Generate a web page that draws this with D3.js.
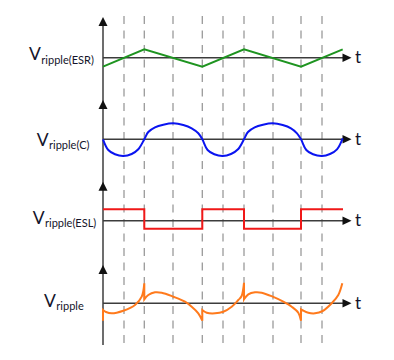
<!DOCTYPE html>
<html><head><meta charset="utf-8">
<script src="https://cdn.jsdelivr.net/npm/d3@7"></script>
<style>html,body{margin:0;padding:0;background:#fff;}svg{display:block;}</style>
</head><body>
<svg id="chart" width="394" height="360"></svg>
<script>
// ---- data (time in switching-period units, values in arbitrary ripple units) ----
const panelNames = ["ripple(ESR)", "ripple(C)", "ripple(ESL)", "ripple"];
const gridT = [0.21, 0.413, 0.70, 0.993, 1.20, 1.41, 1.70, 1.98, 2.19];

const esrT = [0, 0.413, 0.993, 1.41, 1.98, 2.397];
const esrV = [-0.9, 0.84, -0.9, 0.84, -0.9, 0.84];

const capT = [0, 0.053, 0.12, 0.203, 0.287, 0.353, 0.413,
              0.453, 0.52, 0.603, 0.703, 0.803, 0.887, 0.953, 0.993,
              1.046, 1.113, 1.197, 1.28, 1.35, 1.41,
              1.45, 1.517, 1.60, 1.697, 1.797, 1.88, 1.94, 1.98,
              2.033, 2.10, 2.19, 2.27, 2.34, 2.397];
const capV = [0, -1.07, -1.5, -1.67, -1.47, -1.0, 0,
              0.73, 1.2, 1.46, 1.6, 1.43, 1.1, 0.6, 0,
              -1.07, -1.5, -1.67, -1.47, -1.0, 0,
              0.73, 1.2, 1.46, 1.6, 1.43, 1.1, 0.6, 0,
              -1.07, -1.5, -1.67, -1.47, -1.0, 0.1];

const eslT = [0, 0.413, 0.993, 1.41, 1.98, 2.40];
const eslV = [1.14, -0.8, 1.14, -0.8, 1.14, 1.14];

// total ripple: smooth pieces separated by the ESL steps
const ripT = [
  [0, 0.03, 0.087, 0.203, 0.32, 0.387, 0.413],
  [0.413, 0.453, 0.52, 0.587, 0.703, 0.82, 0.887, 0.953, 0.993],
  [0.993, 1.037, 1.12, 1.203, 1.287, 1.353, 1.385, 1.41],
  [1.41, 1.453, 1.52, 1.587, 1.697, 1.803, 1.887, 1.953, 1.98],
  [1.98, 2.053, 2.12, 2.197, 2.287, 2.353, 2.393]
];
const ripV = [
  [-0.67, -0.87, -1.0, -0.74, -0.17, 0.66, 2.0],
  [0.4, 0.83, 1.1, 1.06, 0.66, 0.16, -0.34, -1.0, -1.74],
  [-0.67, -0.94, -1.0, -0.84, -0.34, 0.33, 0.7, 2.05],
  [0.4, 0.9, 1.1, 1.06, 0.66, 0.16, -0.34, -0.94, -1.74],
  [-0.6, -0.94, -1.0, -0.77, 0.0, 0.83, 2.0]
];
const ripStart = -1.74;

// ---- layout ----
const svg = d3.select("#chart");
const x = d3.scaleLinear().domain([0, 2.4]).range([103, 343]);
const baselines = [57.7, 139.3, 220.7, 303.3];
const arrowTops = [17, 100, 181.7, 265];
const yS = baselines.map(b => d3.scaleLinear().domain([-2, 2]).range([b + 20, b - 20]));
const axisColor = "#3c3c3c";
const textColor = "#14142a";

// dashed grid
svg.append("g").selectAll("line").data(gridT).join("line")
  .attr("x1", d => x(d)).attr("x2", d => x(d))
  .attr("y1", 16).attr("y2", 345)
  .attr("stroke", "#9a9a9a").attr("stroke-width", 1.3)
  .attr("stroke-dasharray", "8,6.5");

// vertical axis
const axX = x(0);
svg.append("line").attr("x1", axX).attr("x2", axX).attr("y1", arrowTops[0] + 4).attr("y2", 345)
  .attr("stroke", axisColor).attr("stroke-width", 1.5);
arrowTops.forEach(t => {
  svg.append("path").attr("d", `M${axX},${t} L${axX - 4.5},${t + 9} L${axX + 4.5},${t + 9} Z`)
    .attr("fill", "#111");
});
// horizontal axes
const tipX = 351.5;
baselines.forEach(b => {
  svg.append("line").attr("x1", axX).attr("x2", tipX - 4).attr("y1", b).attr("y2", b)
    .attr("stroke", axisColor).attr("stroke-width", 1.4);
  svg.append("path").attr("d", `M${tipX},${b} L${tipX - 9},${b - 4.3} L${tipX - 9},${b + 4.3} Z`)
    .attr("fill", "#111");
  svg.append("text").attr("x", 355).attr("y", b + 5.6).text("t")
    .attr("font-family", "Lato, 'Open Sans', sans-serif").attr("font-size", 17).attr("fill", textColor);
});

// labels
const labelPos = [[29, 60, 3.5], [36.7, 146, 2.5], [32.7, 224, 3.3], [44, 306.7, 3.2]];
panelNames.forEach((n, i) => {
  const t = svg.append("text").attr("x", labelPos[i][0]).attr("y", labelPos[i][1])
    .attr("font-family", "Lato, 'Open Sans', sans-serif").attr("fill", textColor);
  t.append("tspan").attr("font-size", 17.5).text("V");
  t.append("tspan").attr("font-size", 11).attr("dy", labelPos[i][2]).attr("dx", 0.5).text(n);
});

// curves
const lineLin = (ys) => d3.line().x(d => x(d[0])).y(d => ys(d[1]));
svg.append("path").datum(esrT.map((t, i) => [t, esrV[i]]))
  .attr("d", lineLin(yS[0])).attr("fill", "none").attr("stroke", "#1e9420").attr("stroke-width", 2);

svg.append("path").datum(capT.map((t, i) => [t, capV[i]]))
  .attr("d", lineLin(yS[1]).curve(d3.curveCatmullRom.alpha(0.5))).attr("fill", "none")
  .attr("stroke", "#0a14f0").attr("stroke-width", 2);

svg.append("path").datum(eslT.map((t, i) => [t, eslV[i]]))
  .attr("d", lineLin(yS[2]).curve(d3.curveStepAfter)).attr("fill", "none")
  .attr("stroke", "#f01818").attr("stroke-width", 2);

const ripLine = lineLin(yS[3]).curve(d3.curveCatmullRom.alpha(0.5));
let dStr = `M${x(0)},${yS[3](ripStart)}`;
ripT.forEach((ts, k) => {
  const seg = ripLine(ts.map((t, i) => [t, ripV[k][i]]));
  dStr += "L" + seg.slice(1);
});
svg.append("path").attr("d", dStr).attr("fill", "none")
  .attr("stroke", "#ff7a1c").attr("stroke-width", 2).attr("stroke-linejoin", "miter");
</script>
</body></html>
